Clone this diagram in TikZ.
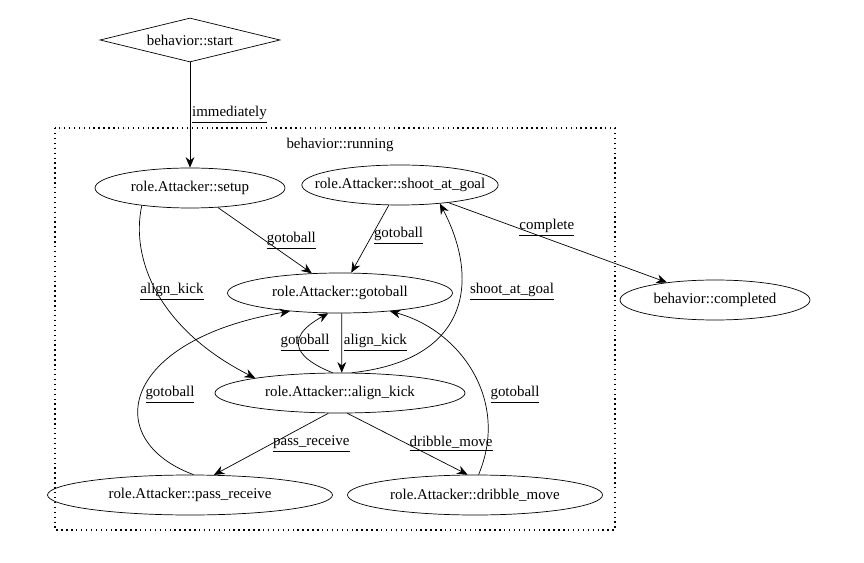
\documentclass[tikz,border=0pt]{standalone}
\usepackage{fontspec}
\setmainfont{Liberation Serif}
\usetikzlibrary{shapes.geometric,arrows.meta}
\begin{document}
\begin{tikzpicture}[x=0.02cm,y=-0.02cm,font=\fontsize{8.5}{10}\selectfont,
                    every node/.style={draw, ellipse, inner xsep=-9pt, inner ysep=1pt, minimum height=0.8cm},
                    edge_style/.style={draw=black, -{Stealth[length=6pt,width=5pt]}},
                    lbl/.style={draw=none, rectangle, minimum height=0pt, inner sep=1pt}]
                    \useasboundingbox (0,0) rectangle (864,563);
                    \draw[dotted, thick] (55,128) rectangle (615,530);
                    \node[lbl] (running) at (340,145) {behavior::running};
                    \node[diamond, aspect=4, minimum width=3.6cm, minimum height=0.88cm, inner sep=0pt] (start) at (190,40) {behavior::start};
                    \node[minimum width=3.8cm] (setup) at (190,188) {role.Attacker::setup};
                    \node[minimum width=3.6cm] (shoot) at (400,185) {role.Attacker::shoot\_at\_goal};
                    \node[minimum width=3.8cm] (done) at (715,300) {behavior::completed};
                    \node[minimum width=4.5cm] (goto) at (340,293) {role.Attacker::gotoball};
                    \node[minimum width=5cm] (align) at (340,393) {role.Attacker::align\_kick};
                    \node[minimum width=5.7cm] (pass) at (190,495) {role.Attacker::pass\_receive};
                    \node[minimum width=5.1cm] (dribble) at (475,495) {role.Attacker::dribble\_move};
                    \draw[edge_style] (start) -- node[lbl, right] {\underline{immediately}} (setup);
                    \draw[edge_style] (setup) -- node[lbl, pos=0.5, right] {\underline{gotoball}} (goto);
                    \draw[edge_style] (setup.200) .. controls (130,260) and (160,330) .. (align.170);
                    \node[lbl] (l1) at (172,292) {\underline{align\_kick}};
                    \draw[edge_style] (shoot) -- node[lbl, pos=0.45, right] {\underline{gotoball}} (goto);
                    \draw[edge_style] (shoot.-20) -- node[lbl, pos=0.45, above] {\underline{complete}} (done);
                    \draw[edge_style] (goto.-85) -- node[lbl, right] {\underline{align\_kick}} (align.85);
                    \draw[edge_style] (align.110) .. controls (300,360) and (280,340) .. (goto.-120);
                    \node[lbl] (l2) at (305,343) {\underline{gotoball}};
                    \draw[edge_style] (align.60) .. controls (470,360) and (480,280) .. (shoot.-25);
                    \node[lbl] (l3) at (512,292) {\underline{shoot\_at\_goal}};
                    \draw[edge_style] (pass.80) .. controls (100,440) and (120,340) .. (goto.-160);
                    \node[lbl] (l4) at (170,395) {\underline{gotoball}};
                    \draw[edge_style] (align.-120) -- node[lbl, right] {\underline{pass\_receive}} (pass.40);
                    \draw[edge_style] (align.-70) -- node[lbl, right] {\underline{dribble\_move}} (dribble.110);
                    \draw[edge_style] (dribble.80) .. controls (510,400) and (460,330) .. (goto.-20);
                    \node[lbl] (l5) at (515,395) {\underline{gotoball}};
                \end{tikzpicture}
\end{document}
